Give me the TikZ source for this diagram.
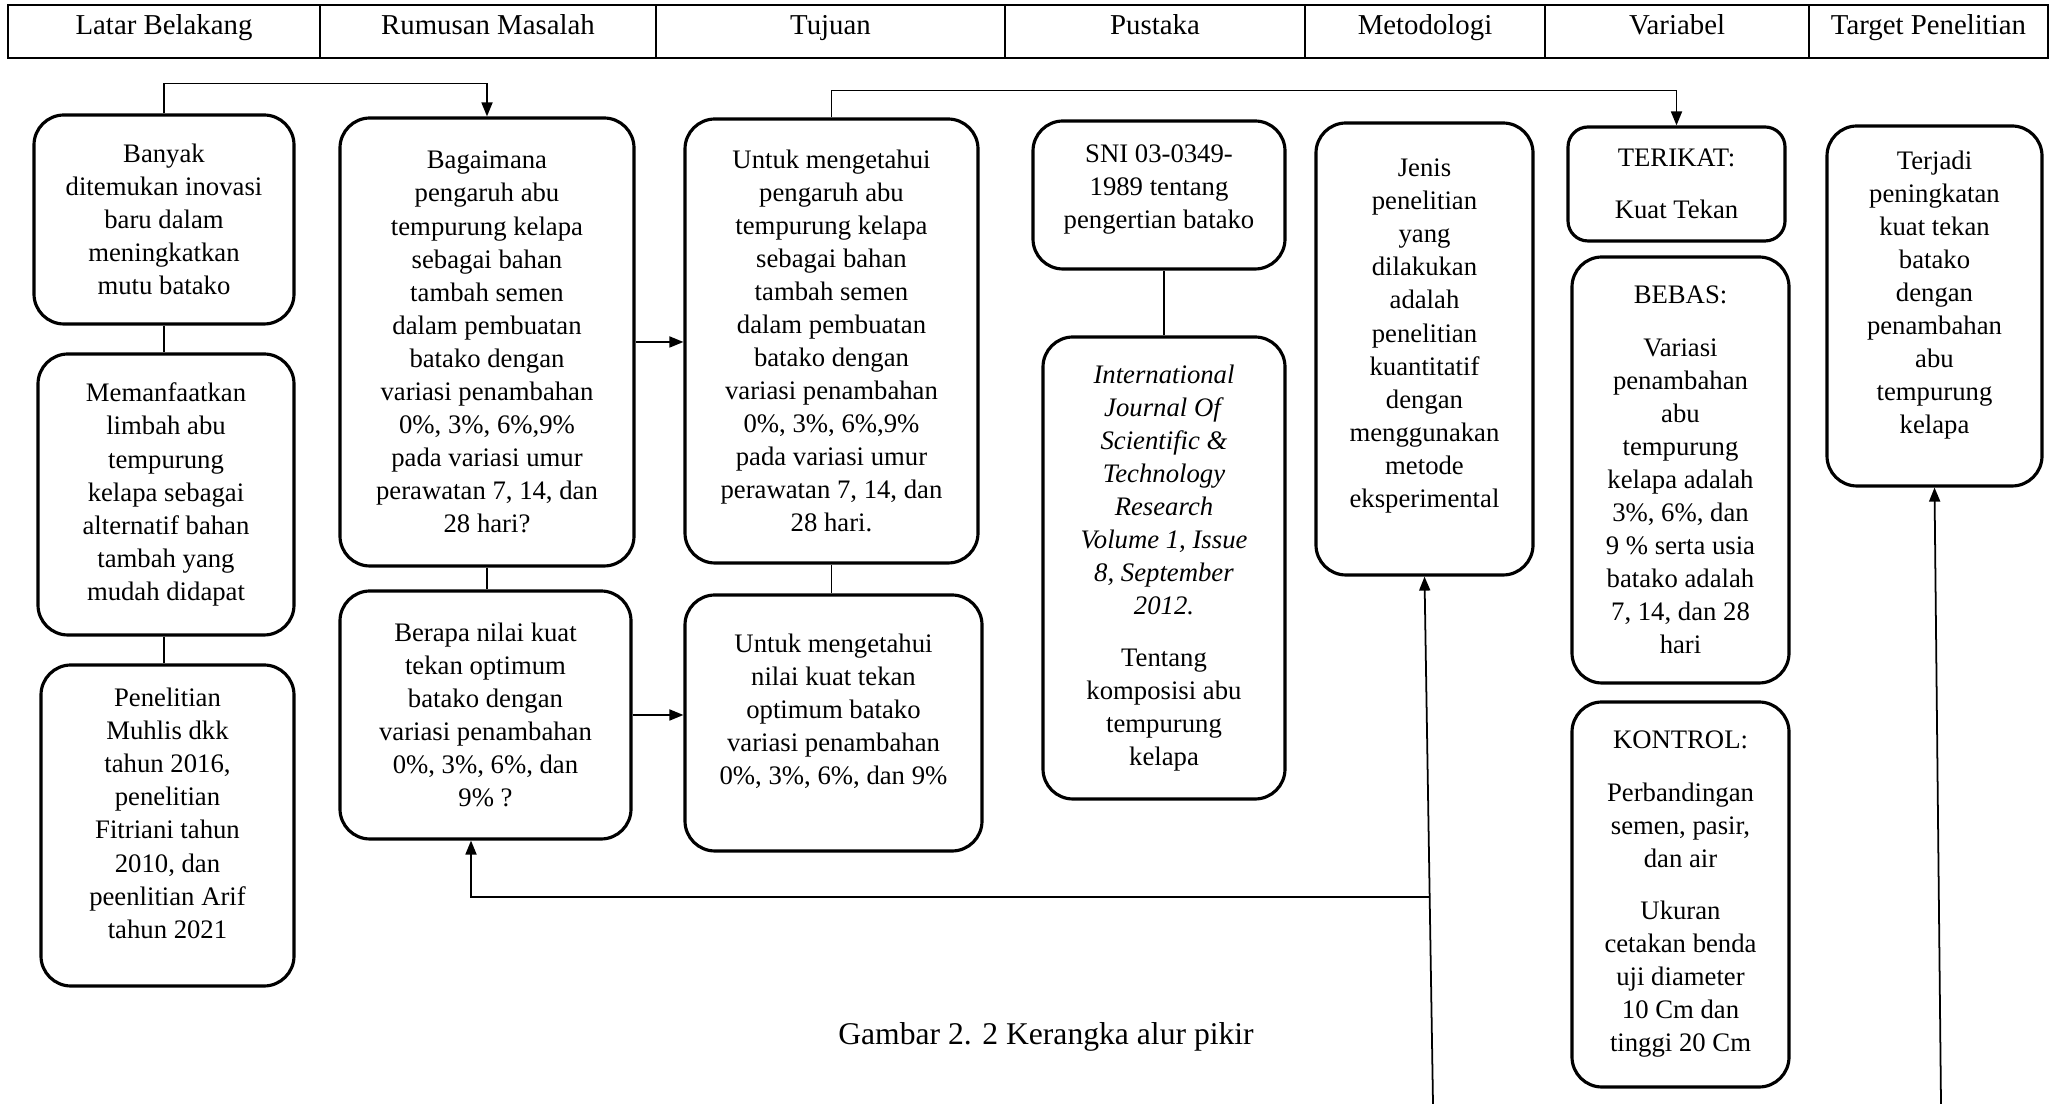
\documentclass[tikz,border=0pt]{standalone}
\usepackage{fontspec}
\setmainfont{Liberation Serif}
\usetikzlibrary{arrows.meta, positioning, calc}
\tikzset{
  every picture/.style={line width=0.5pt},
  box/.style={draw, rounded corners=3mm, line width=0.9pt, align=center, inner sep=0pt, font=\fontsize{7.6}{9.4}\selectfont},
  head/.style={draw, line width=0.6pt, minimum height=5.3mm, inner sep=0pt, text height=6.2pt, text depth=4.2pt, font=\fontsize{8.2}{10}\selectfont},
  link/.style={line width=0.5pt},
  arrow/.style={-{Triangle[length=1.4mm, width=1.1mm]}, line width=0.5pt},
  lift/.style={text depth=#1},
}

\begin{document}
\begin{tikzpicture}
  \useasboundingbox (0,0) rectangle (20.58,-11.04);
  % header row
  \foreach \n/\xa/\xb/\t in {1/0.08/3.20/Latar Belakang, 2/3.20/6.56/Rumusan Masalah, 3/6.56/10.05/Tujuan, 4/10.05/13.05/Pustaka, 5/13.05/15.45/Metodologi, 6/15.45/18.09/Variabel, 7/18.09/20.48/Target Penelitian}
    \node[head, minimum width={(\xb-\xa)*1cm}] (h\n) at ({(\xa+\xb)/2},-0.315) {\t};
  % latar belakang
  \node[box, minimum width=2.60cm, minimum height=2.09cm] (lb1) at (1.64,-2.195) {Banyak\\ditemukan inovasi\\baru dalam\\meningkatkan\\mutu batako};
  \node[box, minimum width=2.56cm, minimum height=2.81cm] (lb2) at (1.66,-4.945) {Memanfaatkan\\limbah abu\\tempurung\\kelapa sebagai\\alternatif bahan\\tambah yang\\mudah didapat};
  \node[box, minimum width=2.53cm, minimum height=3.21cm, lift=7pt] (lb3) at (1.675,-8.255) {Penelitian\\Muhlis dkk\\tahun 2016,\\penelitian\\Fitriani tahun\\2010, dan\\peenlitian Arif\\tahun 2021};
  % rumusan masalah
  \node[box, minimum width=2.94cm, minimum height=4.48cm] (rm1) at (4.87,-3.42) {Bagaimana\\pengaruh abu\\tempurung kelapa\\sebagai bahan\\tambah semen\\dalam pembuatan\\batako dengan\\variasi penambahan\\0\%, 3\%, 6\%,9\%\\pada variasi umur\\perawatan 7, 14, dan\\28 hari?};
  \node[box, minimum width=2.91cm, minimum height=2.48cm] (rm2) at (4.855,-7.15) {Berapa nilai kuat\\tekan optimum\\batako dengan\\variasi penambahan\\0\%, 3\%, 6\%, dan\\9\% ?};
  % tujuan
  \node[box, minimum width=2.93cm, minimum height=4.44cm] (tj1) at (8.315,-3.41) {Untuk mengetahui\\pengaruh abu\\tempurung kelapa\\sebagai bahan\\tambah semen\\dalam pembuatan\\batako dengan\\variasi penambahan\\0\%, 3\%, 6\%,9\%\\pada variasi umur\\perawatan 7, 14, dan\\28 hari.};
  \node[box, minimum width=2.97cm, minimum height=2.56cm, lift=8pt] (tj2) at (8.335,-7.23) {Untuk mengetahui\\nilai kuat tekan\\optimum batako\\variasi penambahan\\0\%, 3\%, 6\%, dan 9\%};
  % pustaka
  \node[box, minimum width=2.52cm, minimum height=1.48cm, lift=5pt] (ps1) at (11.59,-1.95) {SNI 03-0349-\\1989 tentang\\pengertian batako};
  \node[box, minimum width=2.42cm, minimum height=4.62cm] (ps2) at (11.64,-5.68) {\textit{International}\\\textit{Journal Of}\\\textit{Scientific \&}\\\textit{Technology}\\\textit{Research}\\\textit{Volume 1, Issue}\\\textit{8, September}\\\textit{2012.}\\[5.5pt]Tentang\\komposisi abu\\tempurung\\kelapa};
  % metodologi
  \node[box, minimum width=2.17cm, minimum height=4.52cm, lift=9pt] (mt) at (14.245,-3.49) {Jenis\\penelitian\\yang\\dilakukan\\adalah\\penelitian\\kuantitatif\\dengan\\menggunakan\\metode\\eksperimental};
  % variabel
  \node[box, rounded corners=2mm, minimum width=2.17cm, minimum height=1.14cm] (vr1) at (16.765,-1.84) {TERIKAT:\\[5.5pt]Kuat Tekan};
  \node[box, minimum width=2.17cm, minimum height=4.26cm] (vr2) at (16.805,-4.70) {BEBAS:\\[5.5pt]Variasi\\penambahan\\abu\\tempurung\\kelapa adalah\\3\%, 6\%, dan\\9 \% serta usia\\batako adalah\\7, 14, dan 28\\hari};
  \node[box, minimum width=2.17cm, minimum height=3.85cm] (vr3) at (16.805,-8.945) {KONTROL:\\[5.5pt]Perbandingan\\semen, pasir,\\dan air\\[5.5pt]Ukuran\\cetakan benda\\uji diameter\\10 Cm dan\\tinggi 20 Cm};
  % target
  \node[box, minimum width=2.15cm, minimum height=3.60cm, lift=8pt] (tg) at (19.345,-3.06) {Terjadi\\peningkatan\\kuat tekan\\batako\\dengan\\penambahan\\abu\\tempurung\\kelapa};
  % connectors
  \draw[arrow] (lb1.north) -- ++(0,0.30) -| (rm1.north);
  \draw[arrow] (tj1.north) -- ++(0,0.27) -| (vr1.north);
  \draw[link] (lb1.south) -- (lb1.south |- lb2.north);
  \draw[link] (lb1.south |- lb2.south) -- (lb1.south |- lb3.north);
  \draw[link] (rm1.south) -- (rm1.south |- rm2.north);
  \draw[link] (tj1.south) -- (tj1.south |- tj2.north);
  \draw[link] (ps2.north) -- (ps2.north |- ps1.south);
  \draw[arrow] (rm1.east) -- (rm1.east -| tj1.west);
  \draw[arrow] (rm2.east) -- (rm2.east -| tj2.west);
  \coordinate (mtfoot) at (14.33,-11.04);
  \coordinate (tgfoot) at (19.41,-11.04);
  \draw[arrow] (mtfoot) -- (mt.south);
  \coordinate (jn) at ($(mtfoot)!0.393!(mt.south)$);
  \draw[arrow] (jn) -| ([xshift=-1.45mm]rm2.south);
  \draw[arrow] (tgfoot) -- (tg.south);
  \node[font=\fontsize{9}{11}\selectfont] (cap) at (10.46,-10.37) {Gambar 2. 2 Kerangka alur pikir};
\end{tikzpicture}
\end{document}
